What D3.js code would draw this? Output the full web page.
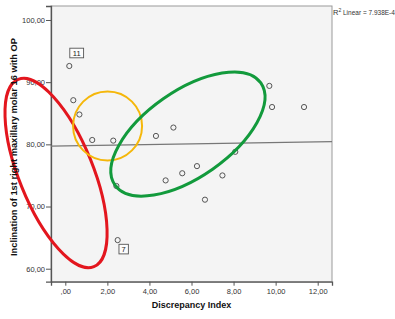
<!DOCTYPE html>
<html>
<head>
<meta charset="utf-8">
<script src="https://cdn.jsdelivr.net/npm/d3@7"></script>
<style>
  body { margin: 0; background: #fff; }
  svg { display: block; font-family: "Liberation Sans", Arial, sans-serif; }
</style>
</head>
<body>
<svg id="chart" width="395" height="319"></svg>
<script>
// scatter data
const discrepancy = [0.19, 0.38, 0.67, 1.28, 2.28, 4.31, 5.14, 9.70, 9.83, 11.35,
                     8.08, 2.43, 4.77, 5.56, 6.26, 2.49, 7.47, 6.64];
const inclination = [92.6, 87.1, 84.8, 80.7, 80.6, 81.35, 82.7, 89.4, 86.0, 86.0,
                     78.8, 73.3, 74.2, 75.35, 76.5, 64.6, 75.0, 71.1];
const caseLabels = ["11", "", "", "", "", "", "", "", "", "", "", "", "", "", "", "7", "", ""];

const xTicks = [0, 2, 4, 6, 8, 10, 12];
const yTicks = [60, 70, 80, 90, 100];

// linear fit line (as drawn)
const fitIntercept = 79.74;
const fitSlope = 0.0546;
const rSquaredText = "7.938E-4";

// hand-drawn annotation shapes: centre in data units
const shapeCentersX = [-0.44, 2.01, 5.83];
const shapeCentersY = [75.39, 82.95, 81.66];

const svg = d3.select("#chart");
const plotLeft = 51, plotRight = 332, plotTop = 6, plotBottom = 281.7;

const x = d3.scaleLinear().domain([-0.68, 12.68]).range([plotLeft, plotRight]);
const y = d3.scaleLinear().domain([57.91, 102.25]).range([plotBottom, plotTop]);

function spss(v) {
  let s = d3.format(".2f")(v).replace(".", ",");
  if (s === "0,00") s = ",00";
  return s;
}

// plot background
svg.append("rect")
  .attr("x", plotLeft).attr("y", plotTop)
  .attr("width", plotRight - plotLeft).attr("height", plotBottom - plotTop)
  .attr("fill", "#f4f4f4")
  .attr("stroke", "#9a9a9a")
  .attr("stroke-width", 1);

// axes
const yAxis = svg.append("g")
  .attr("transform", "translate(" + plotLeft + ",0)")
  .call(d3.axisLeft(y).tickValues(yTicks).tickSize(5).tickPadding(1).tickFormat(spss));
const xAxis = svg.append("g")
  .attr("transform", "translate(0," + plotBottom + ")")
  .call(d3.axisBottom(x).tickValues(xTicks).tickSize(4).tickPadding(3).tickFormat(spss));

[xAxis, yAxis].forEach(function (g) {
  g.select(".domain").attr("stroke", "#555").attr("stroke-width", 1.3);
  g.selectAll(".tick line").attr("stroke", "#555");
  g.selectAll(".tick text")
    .attr("fill", "#333")
    .style("font-size", "7.5px")
    .style("font-family", "'Liberation Sans', Arial, sans-serif");
});

// fit line
const xd = x.domain();
svg.append("line")
  .attr("x1", x(xd[0])).attr("x2", x(xd[1]))
  .attr("y1", y(fitIntercept + fitSlope * xd[0]))
  .attr("y2", y(fitIntercept + fitSlope * xd[1]))
  .attr("stroke", "#777")
  .attr("stroke-width", 1.3);

// points
const pts = discrepancy.map(function (d, i) {
  return { x: d, y: inclination[i], label: caseLabels[i] };
});
svg.append("g").selectAll("circle")
  .data(pts)
  .join("circle")
  .attr("cx", d => x(d.x))
  .attr("cy", d => y(d.y))
  .attr("r", 2.6)
  .attr("fill", "none")
  .attr("stroke", "#555")
  .attr("stroke-width", 1);

// case labels
const labelled = pts.filter(d => d.label !== "");
const lab = svg.append("g").selectAll("g")
  .data(labelled)
  .join("g")
  .attr("transform", function (d) {
    const dy = d.y > 80 ? -13 : 9;
    const dx = d.y > 80 ? 7.4 : 6;
    return "translate(" + (x(d.x) + dx) + "," + (y(d.y) + dy) + ")";
  });
lab.append("rect")
  .attr("x", d => -(d.label.length * 2.2 + 2.5))
  .attr("y", -4.8)
  .attr("width", d => d.label.length * 4.4 + 5)
  .attr("height", 9.6)
  .attr("fill", "#fcfcfc")
  .attr("stroke", "#555")
  .attr("stroke-width", 0.9);
lab.append("text")
  .attr("text-anchor", "middle")
  .attr("dy", "0.35em")
  .style("font-size", "7.5px")
  .attr("fill", "#222")
  .text(d => d.label);

// annotation ellipses
const shapes = [
  { rx: 101, ry: 37, angle: 68, color: "#e3161e" },
  { rx: 34.5, ry: 34.5, angle: 0, color: "#f5b70a" },
  { rx: 89, ry: 43, angle: -35, color: "#129a3c" }
];
svg.append("g").selectAll("ellipse")
  .data(shapes)
  .join("ellipse")
  .attr("cx", 0).attr("cy", 0)
  .attr("rx", d => d.rx).attr("ry", d => d.ry)
  .attr("transform", (d, i) => "translate(" + x(shapeCentersX[i]) + "," + y(shapeCentersY[i]) + ") rotate(" + d.angle + ")")
  .attr("fill", "none")
  .attr("stroke", d => d.color)
  .attr("stroke-width", d => d.angle === 0 ? 2 : 3);

// titles
svg.append("text")
  .attr("x", (plotLeft + plotRight) / 2)
  .attr("y", 308)
  .attr("text-anchor", "middle")
  .style("font-size", "9px")
  .style("font-weight", "bold")
  .attr("fill", "#111")
  .text("Discrepancy Index");

svg.append("text")
  .attr("transform", "translate(17,147) rotate(-90)")
  .attr("text-anchor", "middle")
  .style("font-size", "9.3px")
  .style("font-weight", "bold")
  .attr("fill", "#111")
  .text("Inclination of 1st right maxillary molar 16 with OP");

const r2 = svg.append("text")
  .attr("x", 333)
  .attr("y", 15)
  .style("font-size", "6.5px")
  .attr("fill", "#333");
r2.append("tspan").style("font-size", "7.5px").text("R");
r2.append("tspan").attr("dy", -3).style("font-size", "5px").text("2");
r2.append("tspan").attr("dy", 3).text(" Linear = " + rSquaredText);
</script>
</body>
</html>
